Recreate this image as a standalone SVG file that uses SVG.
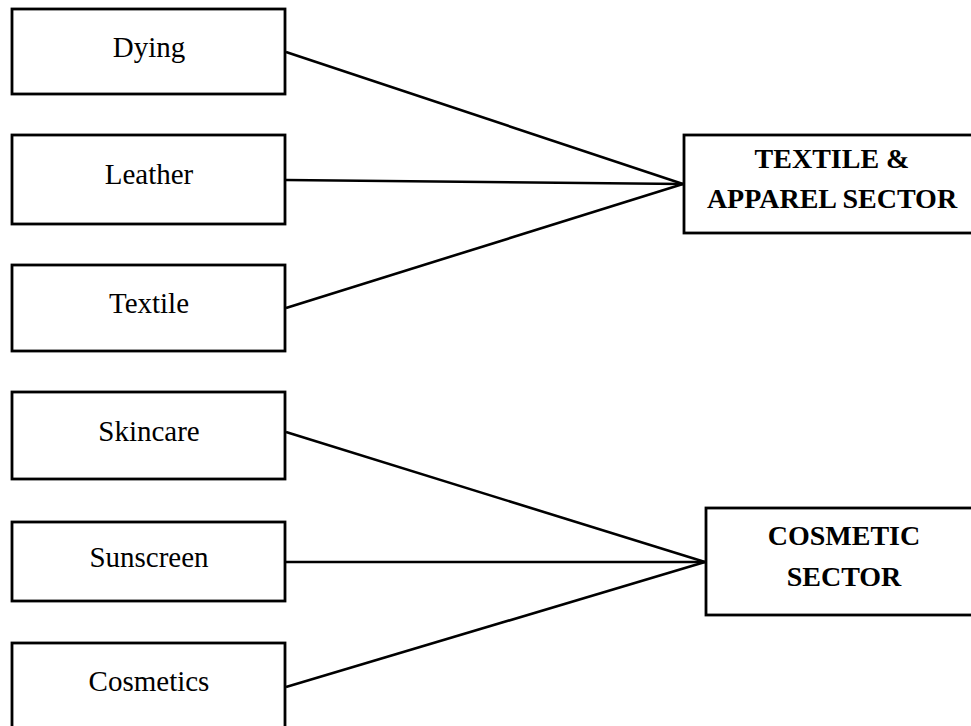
<svg xmlns="http://www.w3.org/2000/svg" width="971" height="726" viewBox="0 0 971 726">
  <style>
    .box { fill: #fff; stroke: #000; stroke-width: 2.8; }
    .link { fill: none; stroke: #000; stroke-width: 2.6; }
    .lbl { font-family: "Liberation Serif", "Times New Roman", serif; font-size: 29px; fill: #000; text-anchor: middle; }
    .hdr { font-family: "Liberation Serif", "Times New Roman", serif; font-size: 28px; font-weight: bold; fill: #000; text-anchor: middle; }
  </style>
  <rect width="971" height="726" fill="#fff"/>

  <!-- connectors -->
  <g id="connectors">
    <line class="link" x1="286" y1="52" x2="683" y2="184"/>
    <line class="link" x1="286" y1="180" x2="683" y2="184"/>
    <line class="link" x1="286" y1="308" x2="683" y2="184"/>
    <line class="link" x1="286" y1="432" x2="705" y2="562"/>
    <line class="link" x1="286" y1="562" x2="705" y2="562"/>
    <line class="link" x1="286" y1="687" x2="705" y2="562"/>
  </g>

  <!-- source nodes -->
  <g id="node-dying">
    <rect class="box" x="12" y="9" width="273" height="85"/>
    <text class="lbl" x="149" y="57">Dying</text>
  </g>
  <g id="node-leather">
    <rect class="box" x="12" y="135" width="273" height="89"/>
    <text class="lbl" x="149" y="184">Leather</text>
  </g>
  <g id="node-textile">
    <rect class="box" x="12" y="265" width="273" height="86"/>
    <text class="lbl" x="149" y="313">Textile</text>
  </g>
  <g id="node-skincare">
    <rect class="box" x="12" y="392" width="273" height="87"/>
    <text class="lbl" x="149" y="441">Skincare</text>
  </g>
  <g id="node-sunscreen">
    <rect class="box" x="12" y="522" width="273" height="79"/>
    <text class="lbl" x="149" y="567">Sunscreen</text>
  </g>
  <g id="node-cosmetics">
    <rect class="box" x="12" y="643" width="273" height="95"/>
    <text class="lbl" x="149" y="691">Cosmetics</text>
  </g>

  <!-- sector nodes -->
  <g id="node-textile-apparel">
    <rect class="box" x="684" y="135" width="300" height="98"/>
    <text class="hdr" x="832" y="168">TEXTILE &amp;</text>
    <text class="hdr" x="832" y="208">APPAREL SECTOR</text>
  </g>
  <g id="node-cosmetic">
    <rect class="box" x="706" y="508" width="280" height="107"/>
    <text class="hdr" x="844" y="545">COSMETIC</text>
    <text class="hdr" x="844" y="586">SECTOR</text>
  </g>
</svg>
